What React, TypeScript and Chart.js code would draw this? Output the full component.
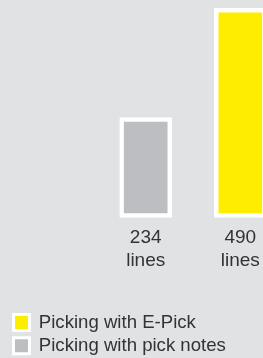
import React, { useEffect, useRef } from "react";
import { Chart, registerables } from "chart.js";

Chart.register(...registerables);

// ---- data ----
const tickLabels = [["234", "lines"], ["490", "lines"]];
const seriesNames = ["Picking with E-Pick", "Picking with pick notes"];
const ePickValues = [null, 490];
const pickNotesValues = [234, null];

const BG = "#e1e2e4";
const YELLOW = "#ffed00";
const GREY = "#bdbec2";
const TEXT = "#333333";
const FONT = "'Liberation Sans', Arial, Helvetica, sans-serif";

export default function App() {
  const ref = useRef<HTMLCanvasElement | null>(null);

  useEffect(() => {
    if (!ref.current) return;
    const chart = new Chart(ref.current, {
      type: "bar",
      data: {
        labels: tickLabels,
        datasets: [
          {
            label: seriesNames[0],
            data: ePickValues,
            backgroundColor: YELLOW,
            borderColor: "#ffffff",
            borderWidth: 4.5,
            borderSkipped: false,
            barThickness: 52,
            clip: false,
          },
          {
            label: seriesNames[1],
            data: pickNotesValues,
            backgroundColor: GREY,
            borderColor: "#ffffff",
            borderWidth: 4.5,
            borderSkipped: false,
            barThickness: 52,
            clip: false,
          },
        ],
      },
      options: {
        animation: false,
        responsive: true,
        maintainAspectRatio: false,
        layout: { padding: { left: 8.8, right: 22.7, top: 8.3, bottom: 0 } },
        scales: {
          x: {
            type: "category",
            offset: false,
            stacked: true,
            grid: { display: false, drawTicks: true, tickLength: 9 },
            border: { display: false },
            ticks: {
              color: TEXT,
              font: { family: FONT, size: 19, lineHeight: 1.2 },
              padding: 0,
              maxRotation: 0,
              autoSkip: false,
            },
            afterFit: (scale: any) => {
              scale.height = 91.2;
            },
          },
          y: {
            position: "left",
            stacked: true,
            min: 0,
            max: 490,
            grid: { display: false, drawTicks: false },
            border: { display: false },
            ticks: { display: false },
            afterFit: (scale: any) => {
              scale.width = 136.9;
            },
          },
        },
        plugins: {
          tooltip: { enabled: false },
          legend: {
            display: true,
            position: "bottom",
            align: "start",
            labels: {
              boxWidth: 16,
              boxHeight: 16,
              padding: 4.7,
              color: TEXT,
              font: { family: FONT, size: 18.6 },
              generateLabels: (c: any) =>
                Chart.defaults.plugins.legend.labels
                  .generateLabels(c)
                  .map((l: any) => ({ ...l, lineWidth: 3, strokeStyle: "#ffffff" })),
            },
          },
        },
      },
    });
    return () => chart.destroy();
  }, []);

  return (
    <div
      style={{
        position: "fixed",
        left: 0,
        top: 0,
        width: 263,
        height: 358,
        overflow: "hidden",
        background: BG,
      }}
    >
      <div style={{ position: "relative", width: 263, height: 365.1 }}>
        <canvas ref={ref} />
      </div>
    </div>
  );
}
